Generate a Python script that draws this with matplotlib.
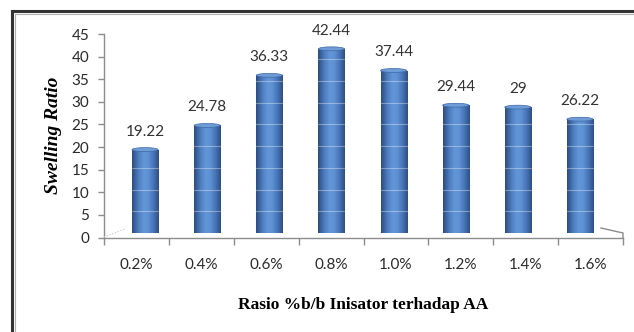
import numpy as np
import matplotlib
matplotlib.use("Agg")
import matplotlib.pyplot as plt
from matplotlib.patches import Ellipse
from matplotlib.lines import Line2D

categories = ["0.2%", "0.4%", "0.6%", "0.8%", "1.0%", "1.2%", "1.4%", "1.6%"]
values = [19.22, 24.78, 36.33, 42.44, 37.44, 29.44, 29, 26.22]
value_labels = ["19.22", "24.78", "36.33", "42.44", "37.44", "29.44", "29", "26.22"]
yticks = [0, 5, 10, 15, 20, 25, 30, 35, 40, 45]

W, H = 634, 332
fig = plt.figure(figsize=(W / 100, H / 100), dpi=100)
fig.patch.set_facecolor("white")

def fx(px):
    return px / W

def fy(py):
    return 1 - py / H

# Main (front plane) axes: axis lines, ticks, labels
x0, x1 = 104, 623
y0, y1 = 237.5, 34
ax = fig.add_axes([fx(x0), fy(y0), fx(x1) - fx(x0), fy(y1) - fy(y0)])
ax.set_xlim(0, len(categories))
ax.set_ylim(0, 45)
ax.set_facecolor("none")
for s in ["top", "right"]:
    ax.spines[s].set_visible(False)
for s in ["left", "bottom"]:
    ax.spines[s].set_color("#8c8c8c")
    ax.spines[s].set_linewidth(1.0)
tick_font = dict(fontfamily="Lato", fontsize=11, color="#2a2a2a")
ax.set_yticks(yticks)
ax.set_yticklabels([str(t) for t in yticks], **tick_font)
ax.set_xticks(np.arange(len(categories) + 1))
ax.set_xticklabels([])
ax.set_xticks(np.arange(len(categories)) + 0.5, minor=True)
ax.set_xticklabels(categories, minor=True, **tick_font)
ax.tick_params(axis="x", which="major", length=5, color="#8c8c8c", width=1)
ax.tick_params(axis="x", which="minor", length=0, pad=15)
ax.tick_params(axis="y", length=4.5, color="#8c8c8c", width=1, pad=6)
ax.set_ylabel("Swelling Ratio", fontfamily="Liberation Serif", fontstyle="italic",
              fontweight="bold", fontsize=14, labelpad=7)
ax.set_xlabel("Rasio %b/b Inisator terhadap AA", fontfamily="Liberation Serif",
              fontweight="bold", fontsize=12.5, labelpad=18)

# Back plane axes for the 3D-looking bars
bx0, bx1 = 114, 611
by0 = 233
scale = 4.34
by1 = by0 - 45 * scale
bax = fig.add_axes([fx(bx0), fy(by0), fx(bx1) - fx(bx0), fy(by1) - fy(by0)])
bax.set_xlim(-0.5, len(categories) - 0.5)
bax.set_ylim(0, 45)
bax.axis("off")

xpos = np.arange(len(categories))
bw = 0.42
bars = bax.bar(xpos, values, width=bw, color="#4f81bd", zorder=2)

grad = np.array([0.0, 0.25, 0.45, 0.6, 0.8, 1.0])
cols = np.array([
    [0.17, 0.30, 0.50],
    [0.31, 0.50, 0.76],
    [0.39, 0.59, 0.85],
    [0.37, 0.57, 0.83],
    [0.28, 0.46, 0.72],
    [0.18, 0.31, 0.52],
])
xs = np.linspace(0, 1, 64)
img = np.stack([np.interp(xs, grad, cols[:, c]) for c in range(3)], axis=-1)[None, :, :]

for b, v in zip(bars, values):
    xl = b.get_x()
    im = bax.imshow(img, extent=[xl, xl + bw, 0, v], aspect="auto", zorder=3,
                    interpolation="bilinear")
    im.set_clip_path(b)
    # faint horizontal highlight lines every 5 units
    for g in yticks[1:]:
        if g < v - 0.5:
            bax.plot([xl, xl + bw], [g, g], color="white", alpha=0.35, lw=0.8, zorder=4)
    # top cap
    cap = Ellipse((xl + bw / 2, v), bw, 0.9, facecolor="#6f9bd6", edgecolor="#3c6aa8",
                  lw=0.5, zorder=5)
    bax.add_patch(cap)
    # bottom rounding
    bot = Ellipse((xl + bw / 2, 0), bw, 0.9, facecolor=(0.31, 0.5, 0.76), edgecolor="none",
                  zorder=2.5)
    bax.add_patch(bot)

for x, v, lab in zip(xpos, values, value_labels):
    bax.annotate(lab, (x, v), xytext=(0, 13), textcoords="offset points", ha="center",
                 va="center", fontfamily="Lato", fontsize=11, color="#333333")

# floor perspective lines
fig.add_artist(Line2D([fx(104), fx(125)], [fy(237), fy(229)], color="#c8c8c8", lw=0.8,
                      linestyle=":"))
fig.add_artist(Line2D([fx(601), fx(623), fx(623)], [fy(228), fy(233), fy(238)],
                      color="#8c8c8c", lw=1.0))

# outer frame (left and top, double line)
fig.add_artist(Line2D([fx(11.5), fx(11.5)], [fy(10.5), 0], color="#333333", lw=2.2))
fig.add_artist(Line2D([fx(11.5), 1], [fy(10.5), fy(10.5)], color="#333333", lw=2.2))
fig.add_artist(Line2D([fx(14.5), fx(14.5)], [fy(13.5), 0], color="#b0b0b0", lw=0.8))
fig.add_artist(Line2D([fx(14.5), 1], [fy(13.5), fy(13.5)], color="#b0b0b0", lw=0.8))

fig.savefig("out.png", dpi=100, facecolor="white")
